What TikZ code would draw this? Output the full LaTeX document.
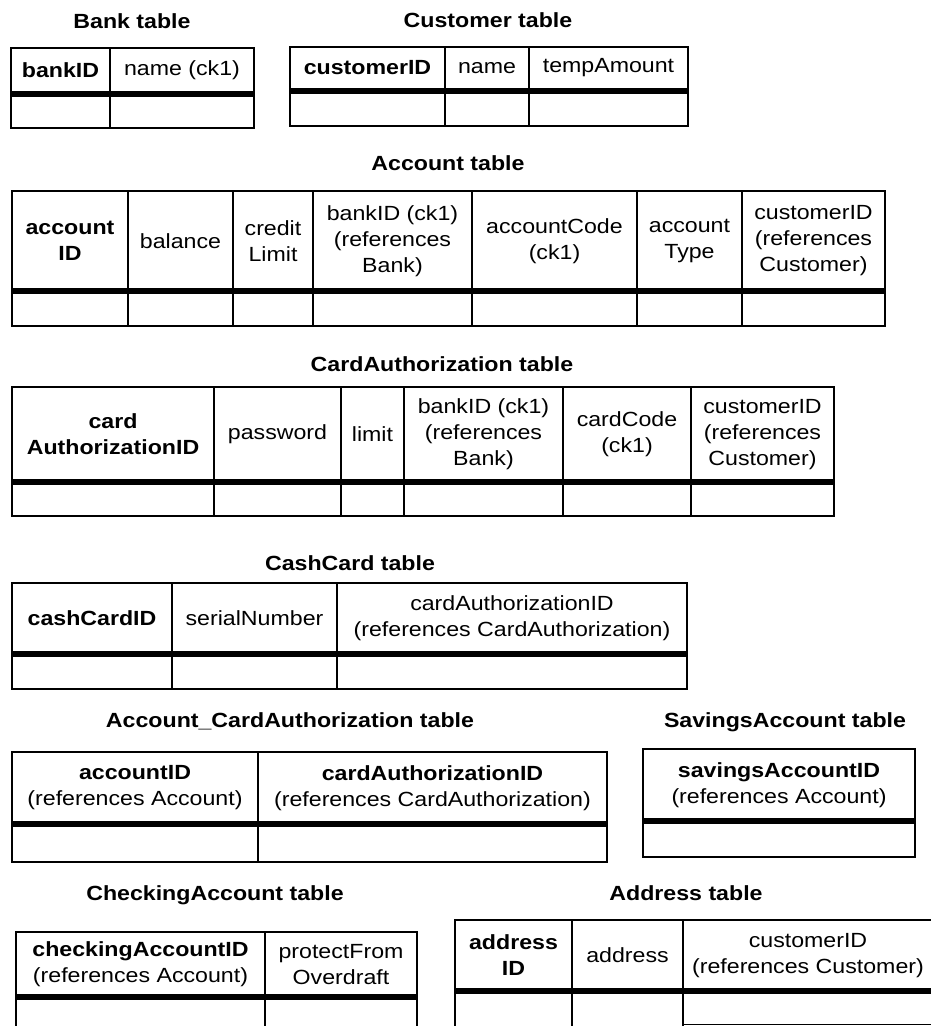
\documentclass[tikz,border=0pt]{standalone}
\usepackage{fontspec}
\setmainfont{Liberation Sans}[FakeStretch=1.13]

\begin{document}
\begin{tikzpicture}[x=1pt, y=-1pt,
    tabletitle/.style={font=\fontsize{20.5}{26}\selectfont\bfseries, anchor=base, inner sep=0pt},
    cell/.style={font=\fontsize{20.5}{26}\selectfont, align=center, inner sep=0pt},
    keycell/.style={cell, font=\fontsize{20.5}{26}\selectfont\bfseries},
    gridline/.style={line width=1.2pt},
    keyline/.style={line width=5.5pt}
  ]
  \useasboundingbox (0,0) rectangle (931,1026);
  \fill[white] (0,0) rectangle (931,1026);

  % Bank
  \node[tabletitle] (bankT) at (132,28) {Bank table};
  \draw[gridline] (11,48) rectangle (254,128);
  \draw[gridline] (110,48) -- (110,128);
  \draw[keyline] (11,94) -- (254,94);
  \node[keycell] (bankId) at (60.5,70) {bankID};
  \node[cell] (bankName) at (182,70) {name (ck1)};

  % Customer
  \node[tabletitle] (custT) at (488,27) {Customer table};
  \draw[gridline] (290,47) rectangle (688,126);
  \foreach \x in {445,529} \draw[gridline] (\x,47) -- (\x,126);
  \draw[keyline] (290,91) -- (688,91);
  \node[keycell] (custId) at (367.5,68) {customerID};
  \node[cell] (custName) at (487,68) {name};
  \node[cell] (custTemp) at (608.5,68) {tempAmount};

  % Account
  \node[tabletitle] (accT) at (448,170) {Account table};
  \draw[gridline] (12,191) rectangle (885,326);
  \foreach \x in {128,233,313,472,637,742} \draw[gridline] (\x,191) -- (\x,326);
  \draw[keyline] (12,291) -- (885,291);
  \node[keycell] (accId) at (70,241) {account\\ID};
  \node[cell] (accBal) at (180.5,241) {balance};
  \node[cell] (accLimit) at (273,241) {credit\\Limit};
  \node[cell] (accBank) at (392.5,241) {bankID (ck1)\\(references\\Bank)};
  \node[cell] (accCode) at (554.5,241) {accountCode\\(ck1)};
  \node[cell] (accType) at (689.5,241) {account\\Type};
  \node[cell] (accCust) at (813.5,241) {customerID\\(references\\Customer)};

  % CardAuthorization
  \node[tabletitle] (cardT) at (442,371) {CardAuthorization table};
  \draw[gridline] (12,387) rectangle (834,516);
  \foreach \x in {214,341,404,563,691} \draw[gridline] (\x,387) -- (\x,516);
  \draw[keyline] (12,482) -- (834,482);
  \node[keycell] (cardId) at (113,434.5) {card\\AuthorizationID};
  \node[cell] (cardPwd) at (277.5,434.5) {password};
  \node[cell] (cardLimit) at (372.5,434.5) {limit};
  \node[cell] (cardBank) at (483.5,434.5) {bankID (ck1)\\(references\\Bank)};
  \node[cell] (cardCode) at (627,434.5) {cardCode\\(ck1)};
  \node[cell] (cardCust) at (762.5,434.5) {customerID\\(references\\Customer)};

  % CashCard
  \node[tabletitle] (cashT) at (350,570) {CashCard table};
  \draw[gridline] (12,583) rectangle (687,689);
  \foreach \x in {172,337} \draw[gridline] (\x,583) -- (\x,689);
  \draw[keyline] (12,654) -- (687,654);
  \node[keycell] (cashId) at (92,618.5) {cashCardID};
  \node[cell] (cashSerial) at (254.5,618.5) {serialNumber};
  \node[cell] (cashAuth) at (512,618.5) {cardAuthorizationID\\(references CardAuthorization)};

  % Account_CardAuthorization
  \node[tabletitle] (linkT) at (290,727) {Account\_CardAuthorization table};
  \draw[gridline] (12,752) rectangle (607,862);
  \draw[gridline] (258,752) -- (258,862);
  \draw[keyline] (12,824) -- (607,824);
  \node[cell] (linkAcc) at (135,788) {\textbf{accountID}\\(references Account)};
  \node[cell] (linkCard) at (432.5,788) {\textbf{cardAuthorizationID}\\(references CardAuthorization)};

  % SavingsAccount
  \node[tabletitle] (savT) at (785,727) {SavingsAccount table};
  \draw[gridline] (643,749) rectangle (915,857);
  \draw[keyline] (643,821) -- (915,821);
  \node[cell] (savId) at (779,785) {\textbf{savingsAccountID}\\(references Account)};

  % CheckingAccount
  \node[tabletitle] (chkT) at (215,900) {CheckingAccount table};
  \draw[gridline] (16,932) rectangle (417,1034);
  \draw[gridline] (265,932) -- (265,1034);
  \draw[keyline] (16,997) -- (417,997);
  \node[cell] (chkId) at (140.5,964.5) {\textbf{checkingAccountID}\\(references Account)};
  \node[cell] (chkOver) at (341,964.5) {protectFrom\\Overdraft};

  % Address
  \node[tabletitle] (addrT) at (686,900) {Address table};
  \draw[gridline] (455,1034) -- (455,920) -- (933,920) -- (933,1034);
  \foreach \x in {572,683} \draw[gridline] (\x,920) -- (\x,1034);
  \draw[keyline] (455,991) -- (933,991);
  \draw[gridline] (683,1024.5) -- (933,1024.5);
  \node[keycell] (addrId) at (513.5,955.5) {address\\ID};
  \node[cell] (addrText) at (627.5,955.5) {address};
  \node[cell] (addrCust) at (808,955.5) {customerID\\(references Customer)};
\end{tikzpicture}
\end{document}
